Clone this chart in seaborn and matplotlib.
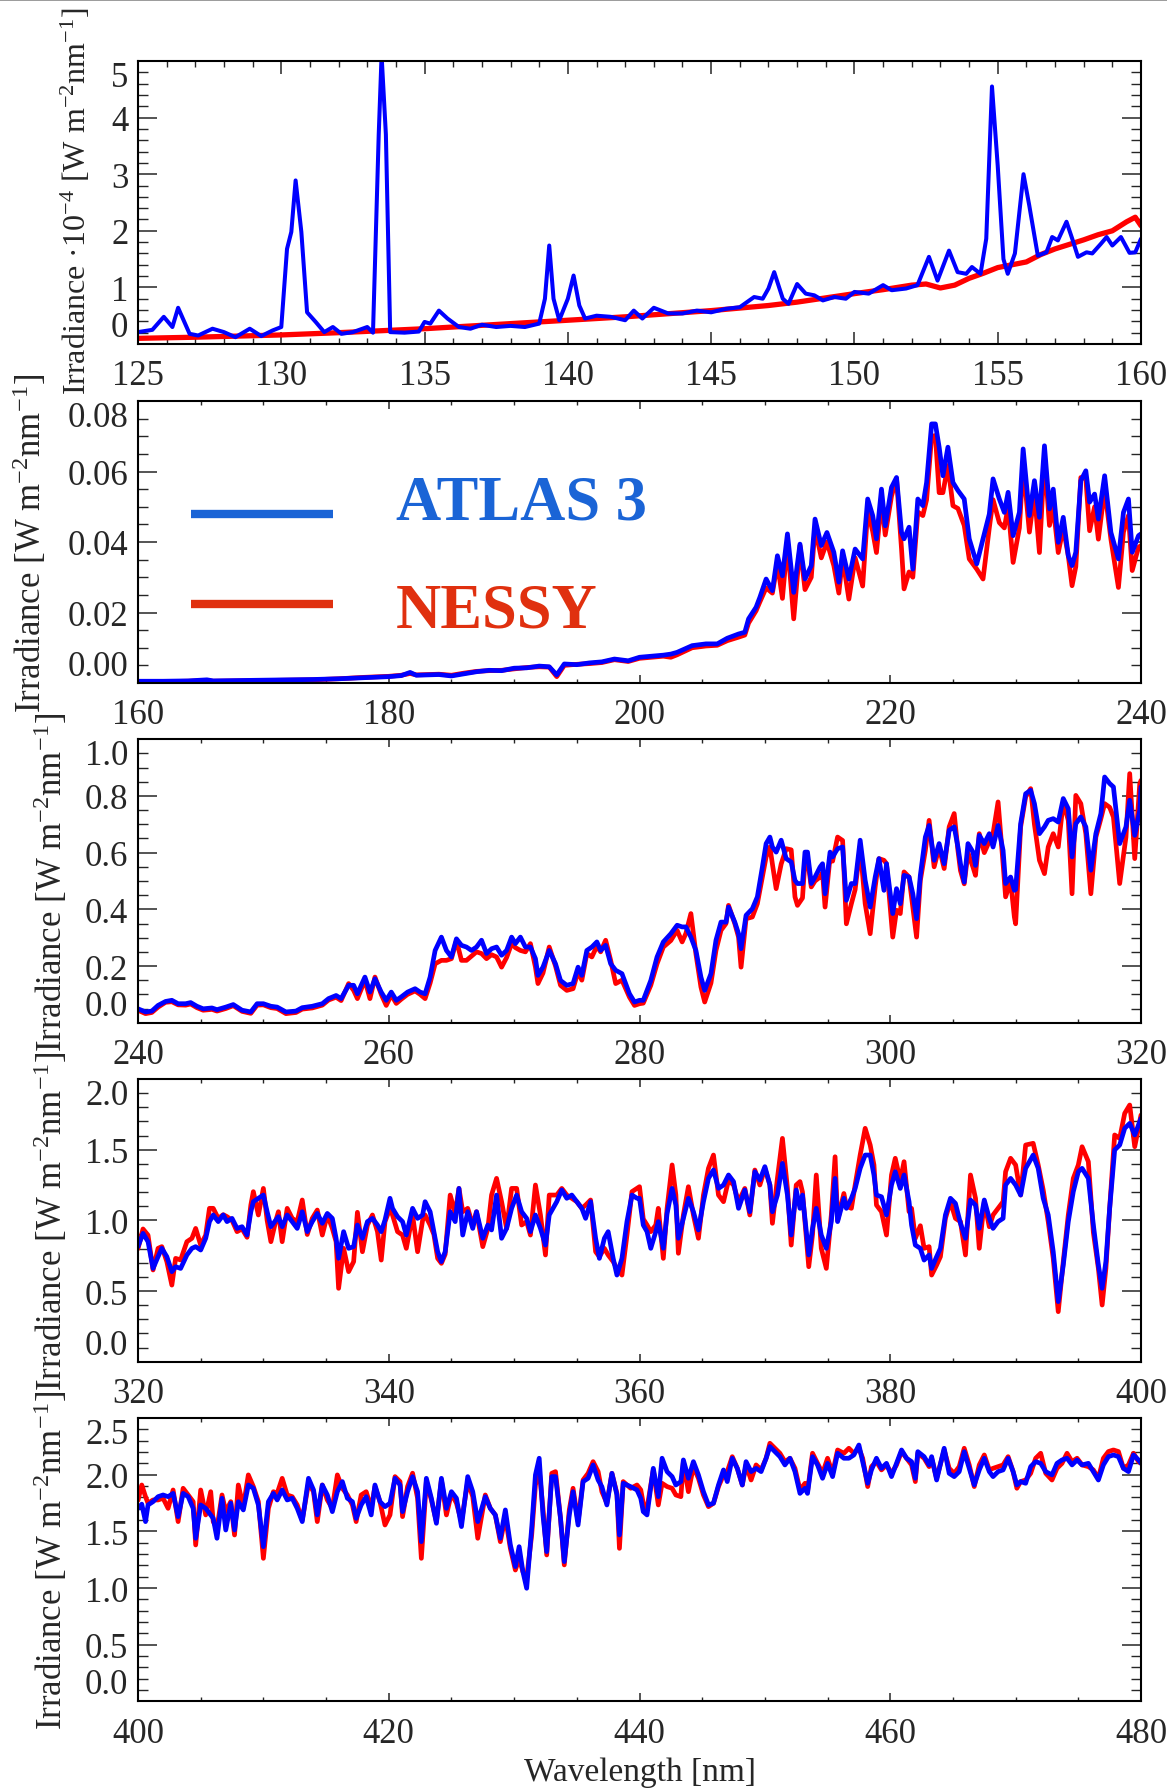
import numpy as np
import matplotlib
matplotlib.use("Agg")
import matplotlib.pyplot as plt
from matplotlib.ticker import MultipleLocator
from matplotlib.lines import Line2D
import seaborn as sns

# ---------------------------------------------------------------- data
# Panel 1: 125-160 nm, irradiance in units of 1e-4 W m^-2 nm^-1
wl1_atlas = [125.0, 125.5, 125.9, 126.2, 126.4, 126.8, 127.1, 127.6, 128.0, 128.4,
             128.9, 129.3, 129.7, 130.0, 130.2, 130.35, 130.5, 130.7, 130.9, 131.2,
             131.5, 131.8, 132.1, 132.5, 133.0, 133.2, 133.4, 133.5, 133.65, 133.8,
             134.3, 134.8, 135.0, 135.2, 135.5, 135.8, 136.2, 136.6, 137.0, 137.5,
             138.0, 138.5, 139.0, 139.2, 139.35, 139.5, 139.7, 140.0, 140.2, 140.4,
             140.6, 141.0, 141.5, 142.0, 142.3, 142.6, 143.0, 143.5, 144.0, 144.5,
             145.0, 145.5, 146.0, 146.5, 146.8, 147.0, 147.2, 147.5, 147.7, 148.0,
             148.3, 148.6, 148.9, 149.3, 149.7, 150.0, 150.5, 151.0, 151.3, 151.8,
             152.2, 152.6, 152.9, 153.3, 153.6, 153.9, 154.1, 154.4, 154.6, 154.8,
             155.0, 155.2, 155.35, 155.6, 155.9, 156.1, 156.4, 156.7, 156.9, 157.1,
             157.4, 157.6, 157.8, 158.1, 158.3, 158.6, 158.8, 159.0, 159.3, 159.6,
             159.8, 160.0]
atlas1 = [0.21, 0.25, 0.48, 0.30, 0.64, 0.18, 0.15, 0.27, 0.21, 0.12,
          0.27, 0.14, 0.24, 0.30, 1.68, 1.98, 2.89, 1.98, 0.56, 0.39,
          0.21, 0.30, 0.18, 0.21, 0.30, 0.20, 3.70, 5.10, 3.70, 0.21,
          0.20, 0.22, 0.39, 0.36, 0.59, 0.45, 0.30, 0.27, 0.34, 0.30,
          0.32, 0.30, 0.36, 0.80, 1.74, 0.80, 0.42, 0.80, 1.21, 0.68,
          0.45, 0.50, 0.48, 0.42, 0.59, 0.45, 0.64, 0.54, 0.54, 0.59,
          0.56, 0.62, 0.65, 0.83, 0.80, 0.98, 1.27, 0.80, 0.71, 1.06,
          0.89, 0.86, 0.77, 0.83, 0.80, 0.92, 0.89, 1.04, 0.95, 0.98,
          1.04, 1.54, 1.12, 1.65, 1.27, 1.24, 1.36, 1.24, 1.86, 4.55,
          3.15, 1.50, 1.24, 1.60, 3.00, 2.45, 1.56, 1.62, 1.89, 1.83,
          2.16, 1.86, 1.54, 1.62, 1.60, 1.77, 1.89, 1.74, 1.89, 1.61,
          1.62, 1.86]
wl1_nessy = [125.0, 127.0, 130.0, 132.0, 135.0, 137.0, 140.0, 142.0, 145.0, 147.0,
             148.0, 150.0, 151.0, 152.0, 152.5, 153.0, 153.5, 154.0, 154.5, 155.0,
             155.5, 156.0, 156.5, 157.0, 157.5, 158.0, 158.5, 159.0, 159.5, 159.8,
             160.0]
nessy1 = [0.10, 0.12, 0.16, 0.20, 0.27, 0.33, 0.42, 0.48, 0.59, 0.68,
          0.74, 0.89, 0.96, 1.04, 1.06, 0.99, 1.04, 1.16, 1.25, 1.35,
          1.40, 1.45, 1.58, 1.68, 1.76, 1.84, 1.93, 2.00, 2.16, 2.24,
          2.09]

# Panel 2: 160-240 nm
wl2 = [160.0, 162.0, 164.0, 165.5, 166.0, 168.0, 170.0, 172.0, 174.0, 176.0,
       178.0, 180.0, 181.0, 181.7, 182.2, 184.0, 185.0, 186.0, 187.0, 188.0,
       189.0, 190.0, 191.0, 192.0, 192.8, 193.4, 194.0, 195.0, 196.0, 197.0,
       198.0, 199.1, 200.0, 201.9, 202.5, 203.0, 204.2, 205.3, 206.2, 207.0,
       207.9, 208.4,
       208.7, 209.3, 209.6, 210.1, 210.6, 211.0, 211.4, 211.8, 212.3, 212.8,
       213.2, 213.7, 214.0, 214.5, 214.95, 215.5, 215.9, 216.2, 216.7, 217.2,
       217.8, 218.2, 218.6, 218.9, 219.3, 219.6, 220.1, 220.5, 220.9, 221.1,
       221.5, 221.8, 222.2, 222.6, 222.9, 223.3, 223.6, 223.9, 224.2, 224.6,
       225.0, 225.4, 225.9, 226.3, 226.9, 227.4, 227.9, 228.2, 228.7, 229.1,
       229.4, 229.8, 230.3, 230.6, 231.1, 231.5, 231.9, 232.3, 232.7, 233.0,
       233.4, 233.8, 234.2, 234.5, 234.8, 235.2, 235.6, 235.9, 236.3, 236.6,
       237.1, 237.6, 238.2, 238.6, 239.0, 239.3, 239.8, 240.0]
atlas2 = [.0005, .0005, .0006, .0009, .0006, .0007, .0008, .0009, .0010, .0012,
          .0015, .0018, .0021, .0030, .0022, .0024, .0020, .0026, .0032, .0036,
          .0035, .0042, .0043, .0048, .0046, .0023, .0054, .0052, .0057, .0060,
          .0068, .0063, .0073, .0079, .0082, .0087, .0106, .0111, .0111, .0127,
          .0139, .0144,
          .0182, .0215, .0243, .0295, .0262, .0361, .0304, .0423, .0257, .0394,
          .0295, .0333, .0465, .0390, .0427, .0371, .0286, .0375, .0295, .0380,
          .0352, .0522, .0475, .0409, .0550, .0446, .0555, .0583, .0427, .0409,
          .0442, .0323, .0522, .0503, .0569, .0735, .0735, .0669, .0588, .0669,
          .0569, .0546, .0522, .0409, .0338, .0409, .0479, .0579, .0522, .0484,
          .0541, .0418, .0484, .0664, .0475, .0574, .0470, .0673, .0494, .0550,
          .0399, .0470, .0361, .0333, .0371, .0574, .0602, .0513, .0536, .0465,
          .0588, .0427, .0352, .0484, .0522, .0371, .0418, .0423]
nessy2 = [.0004, .0004, .0005, .0007, .0005, .0006, .0007, .0008, .0009, .0012,
          .0016, .0019, .0022, .0027, .0023, .0025, .0022, .0028, .0033, .0035,
          .0036, .0040, .0044, .0046, .0045, .0018, .0050, .0053, .0055, .0058,
          .0066, .0061, .0070, .0076, .0073, .0080, .0100, .0105, .0107, .0120,
          .0130, .0136,
          .0170, .0205, .0230, .0270, .0255, .0340, .0240, .0400, .0182, .0390,
          .0265, .0300, .0440, .0355, .0400, .0333, .0255, .0355, .0238, .0355,
          .0275, .0490, .0430, .0370, .0520, .0420, .0530, .0580, .0380, .0267,
          .0315, .0300, .0485, .0475, .0520, .0700, .0702, .0540, .0540, .0617,
          .0503, .0495, .0447, .0352, .0323, .0295, .0440, .0520, .0455, .0440,
          .0500, .0342, .0440, .0620, .0428, .0540, .0370, .0640, .0447, .0500,
          .0370, .0440, .0361, .0276, .0330, .0583, .0580, .0432, .0500, .0408,
          .0550, .0408, .0271, .0428, .0475, .0319, .0385, .0390]

# Panel 3: 240-320 nm
wl3 = [240.0, 240.6, 241.1, 241.6, 242.2, 242.7, 243.2, 243.8, 244.2, 244.7,
       245.2, 245.9, 246.3, 247.0, 247.6, 248.3, 249.0, 249.5, 250.0, 250.6,
       251.1, 251.8, 252.6, 253.1, 253.9, 254.7, 255.2, 255.8, 256.2, 256.8,
       257.2, 257.5, 258.1, 258.5, 258.9, 259.4, 259.8, 260.2, 260.6, 261.0,
       261.5, 262.1, 262.5, 262.9, 263.3, 263.7, 264.2, 264.6, 265.0, 265.4,
       265.8, 266.2, 266.6, 267.0, 267.4, 267.8, 268.2, 268.6, 269.0, 269.4,
       269.8, 270.1, 270.5, 270.9, 271.3, 271.7, 271.9, 272.3, 272.8, 273.3,
       273.7, 274.2, 274.7, 275.1, 275.4, 275.8, 276.2, 276.6, 276.9, 277.3,
       277.7, 278.1, 278.6, 279.2, 279.6,
       280.0, 280.3, 280.9, 281.4, 281.9, 282.5, 283.0, 283.4, 283.7, 284.1,
       284.5, 284.9, 285.2, 285.7, 286.1, 286.5, 286.9, 287.1, 287.6, 287.9,
       288.1, 288.5, 289.0, 289.4, 289.8, 290.1, 290.4, 290.6, 290.9, 291.3,
       291.7, 292.1, 292.4, 292.6, 293.0, 293.2, 293.4, 293.7, 294.0, 294.4,
       294.6, 294.8, 295.2, 295.4, 295.8, 296.2, 296.5, 296.9, 297.2, 297.6,
       298.0, 298.4, 298.8, 299.1, 299.5, 299.7, 300.2, 300.5, 300.8, 301.1,
       301.5, 301.8, 302.1, 302.4, 302.8, 303.1, 303.5, 303.9, 304.3, 304.7,
       305.1, 305.4, 305.6, 305.9, 306.2, 306.6, 306.8, 307.1, 307.5, 307.9,
       308.2, 308.6, 309.0, 309.2, 309.6, 309.9, 310.0, 310.4, 310.8, 311.2,
       311.5, 311.9, 312.3, 312.6, 313.0, 313.4, 313.8, 314.2, 314.5, 314.8,
       315.2, 315.6, 316.0, 316.4, 316.8, 317.1, 317.5, 317.8, 318.3, 318.8,
       319.1, 319.5, 319.9, 320.0]
atlas3 = [.049, .038, .041, .061, .075, .079, .067, .067, .071, .058,
          .049, .052, .046, .055, .064, .044, .038, .067, .067, .058,
          .055, .038, .041, .053, .058, .067, .085, .096, .085, .132,
          .132, .102, .161, .108, .155, .108, .079, .108, .079, .091,
          .108, .120, .108, .102, .161, .255, .302, .255, .232, .296,
          .273, .267, .255, .267, .291, .244, .261, .267, .238, .255,
          .302, .279, .302, .267, .267, .226, .167, .196, .255, .208,
          .149, .132, .138, .196, .167, .255, .267, .285, .255, .273,
          .208, .185, .173, .102, .073,
          .079, .079, .149, .232, .285, .314, .344, .338, .338, .302,
          .255, .161, .114, .173, .291, .355, .355, .408, .355, .314,
          .261, .379, .402, .444, .549, .632, .655, .620, .602, .644,
          .579, .567, .502, .491, .491, .602, .602, .491, .514, .549,
          .561, .455, .602, .585, .614, .620, .432, .491, .491, .644,
          .502, .408, .514, .579, .467, .561, .385, .473, .420, .520,
          .514, .455, .367, .520, .655, .696, .573, .632, .561, .679,
          .691, .620, .561, .496, .632, .602, .555, .661, .632, .667,
          .620, .696, .608, .491, .514, .467, .470, .702, .808, .820,
          .773, .667, .691, .714, .720, .708, .791, .755, .585, .702,
          .726, .691, .538, .667, .738, .867, .844, .832, .632, .691,
          .785, .661, .749, .832]
nessy3 = [.044, .032, .036, .055, .072, .074, .063, .062, .066, .053,
          .044, .047, .041, .050, .060, .040, .033, .062, .063, .053,
          .050, .032, .036, .048, .052, .062, .080, .090, .078, .138,
          .114, .085, .150, .085, .161, .100, .061, .098, .068, .083,
          .100, .112, .100, .085, .140, .208, .220, .220, .226, .290,
          .220, .220, .235, .250, .244, .226, .240, .232, .196, .230,
          .279, .265, .255, .250, .279, .196, .138, .175, .267, .200,
          .132, .114, .120, .180, .150, .244, .232, .270, .250, .291,
          .220, .138, .150, .090, .061,
          .067, .069, .132, .208, .267, .290, .326, .285, .315, .385,
          .243, .126, .073, .140, .255, .326, .350, .414, .350, .302,
          .196, .367, .373, .420, .514, .585, .620, .560, .473, .560,
          .614, .610, .444, .414, .440, .572, .580, .479, .500, .514,
          .530, .408, .585, .570, .655, .643, .349, .420, .470, .620,
          .420, .314, .480, .579, .573, .561, .302, .397, .385, .532,
          .514, .408, .302, .502, .608, .714, .550, .620, .544, .691,
          .738, .608, .537, .490, .600, .549, .520, .667, .600, .640,
          .667, .779, .561, .444, .500, .373, .349, .691, .797, .826,
          .700, .573, .526, .620, .667, .620, .779, .714, .455, .802,
          .773, .667, .455, .655, .720, .773, .760, .726, .491, .655,
          .879, .579, .843, .855]

# Panel 4: 320-400 nm
wl4 = [320.0, 320.4, 320.8, 321.2, 321.6, 321.9, 322.3, 322.7, 323.0, 323.4,
       323.9, 324.3, 324.6, 325.0, 325.4, 325.7, 326.0, 326.4, 326.8, 327.1,
       327.5, 327.9, 328.3, 328.7, 329.0, 329.2, 329.6, 330.0, 330.3, 330.6,
       331.0, 331.2, 331.5, 331.9, 332.3, 332.7, 333.1, 333.5, 333.9, 334.3,
       334.7, 335.1, 335.5, 335.8, 336.0, 336.4, 336.8, 337.2, 337.5, 337.9,
       338.3, 338.7, 339.1, 339.4, 339.7, 340.1, 340.3, 340.7, 341.1, 341.4,
       341.9, 342.3, 342.7, 342.9, 343.3, 343.6, 343.9, 344.2, 344.5, 344.9,
       345.3, 345.6, 345.9, 346.3, 346.7, 347.0, 347.5, 347.9, 348.2, 348.6,
       349.0, 349.4, 349.8, 350.2, 350.6, 351.0, 351.3, 351.7, 352.1, 352.5,
       352.8, 353.4, 353.8, 354.2, 354.6, 355.0, 355.4, 355.7, 356.1, 356.5,
       356.8, 357.2, 357.5, 357.9, 358.2, 358.6, 359.0, 359.4, 359.8,
       360.0, 360.3, 360.6, 360.9, 361.3, 361.5, 361.9, 362.2, 362.6, 362.9,
       363.1, 363.5, 363.9, 364.3, 364.7, 365.1, 365.5, 365.9, 366.3, 366.7,
       367.1, 367.5, 367.9, 368.4, 368.8, 369.2, 369.6, 370.0, 370.4, 370.6,
       371.0, 371.4, 371.8, 372.1, 372.5, 372.8, 373.0, 373.5, 373.8, 374.1,
       374.5, 374.9, 375.3, 375.6, 375.8, 376.3, 376.5, 376.9, 377.2, 377.6,
       378.0, 378.4, 378.7, 378.9, 379.3, 379.7, 380.1, 380.4, 380.8, 381.1,
       381.5, 381.7, 382.0, 382.4, 382.7, 383.1, 383.3, 383.7, 384.0, 384.4,
       384.8, 385.2, 385.6, 386.0, 386.4, 386.8, 387.1, 387.5, 387.9, 388.2,
       388.6, 389.0, 389.2, 389.6, 390.0, 390.4, 390.8, 391.4, 391.8, 392.2,
       392.6, 393.0, 393.4, 393.8, 394.2, 394.6, 395.0, 395.3, 395.8, 396.2,
       396.6, 396.9, 397.2, 397.5, 397.9, 398.3, 398.7, 399.1, 399.5, 400.0]
atlas4 = [.814, .908, .849, .660, .743, .802, .743, .637, .672, .660,
          .755, .802, .814, .790, .873, .991, 1.038, .991, 1.038, .991,
          1.014, .943, .955, .896, 1.061, 1.132, 1.156, 1.179, 1.061, .955,
          1.002, 1.026, .955, 1.038, .991, .943, 1.061, .920, .991, 1.049,
          .979, 1.049, 1.014, .873, .731, .920, .802, .814, .967, .873,
          .991, 1.014, .967, .920, 1.002, 1.156, 1.085, 1.026, .991, .896,
          1.085, 1.014, 1.038, 1.132, 1.061, .920, .778, .708, .778, 1.061,
          .991, 1.226, .896, 1.061, .943, 1.061, .873, .967, .932, 1.179,
          .873, .943, 1.085, 1.179, 1.061, 1.014, .920, 1.038, .943, .825,
          1.038, 1.132, 1.215, 1.156, 1.179, 1.132, 1.085, 1.014, 1.132, .873,
          .731, .873, .920, .731, .613, .731, .991, 1.179, 1.156,
          1.156, .967, .920, .802, .920, .991, .802, 1.049, 1.226, 1.108,
          .873, 1.014, 1.156, 1.061, .932, 1.132, 1.297, 1.356, 1.226, 1.250,
          1.321, 1.274, 1.085, 1.215, 1.061, 1.344, 1.285, 1.380, 1.250, 1.061,
          1.179, 1.403, 1.179, .896, 1.215, 1.085, 1.179, .755, .943, 1.085,
          .896, .802, .991, 1.297, .991, 1.156, 1.085, 1.156, 1.226, 1.368,
          1.462, 1.462, 1.321, 1.179, 1.167, 1.038, 1.250, 1.344, 1.226, 1.321,
          1.132, .967, .825, .802, .719, .755, .660, .743, .802, 1.038,
          1.156, 1.120, .979, .873, 1.144, 1.108, .943, 1.144, 1.014, .943,
          .991, 1.014, 1.250, 1.297, 1.250, 1.179, 1.368, 1.462, 1.368, 1.156,
          1.038, .778, .425, .684, .991, 1.203, 1.344, 1.368, 1.297, .967,
          .684, .519, .708, 1.085, 1.498, 1.533, 1.651, 1.686, 1.604, 1.722]
nessy4 = [.800, .939, .895, .649, .802, .814, .708, .542, .731, .720,
          .849, .873, .943, .825, .896, 1.085, 1.085, 1.014, 1.040, 1.026,
          1.000, .920, .940, .880, 1.108, 1.203, 1.038, 1.226, 1.000, .849,
          1.000, 1.061, .849, 1.085, 1.014, .991, 1.144, .900, 1.014, 1.073,
          .896, 1.038, .943, .849, .519, .802, .637, .708, 1.057, .778,
          .967, 1.038, .920, .719, .990, 1.085, 1.038, .920, .896, .802,
          1.038, .778, 1.000, 1.038, .967, .900, .731, .696, .760, 1.179,
          1.050, 1.226, 1.061, 1.085, .967, 1.061, .814, .940, 1.179, 1.297,
          1.132, .943, 1.226, 1.226, .967, .991, .896, 1.250, 1.038, .755,
          1.179, 1.179, 1.226, 1.179, 1.156, 1.132, 1.085, 1.108, 1.144, .778,
          .743, .802, .755, .708, .660, .613, .896, 1.203, 1.226,
          1.238, 1.010, .967, .920, .967, 1.085, .731, 1.085, 1.392, 1.180,
          .767, 1.038, 1.238, 1.038, .873, 1.179, 1.368, 1.462, 1.179, 1.132,
          1.285, 1.250, 1.132, 1.226, 1.038, 1.356, 1.250, 1.368, 1.250, .979,
          1.297, 1.580, 1.226, .825, 1.250, 1.274, 1.200, .672, .900, 1.321,
          .802, .660, 1.038, 1.450, 1.000, 1.190, 1.100, 1.085, 1.250, 1.462,
          1.651, 1.533, 1.392, 1.108, 1.061, .896, 1.321, 1.439, 1.280, 1.415,
          1.061, 1.085, .873, .962, .802, .814, .613, .684, .743, 1.014,
          1.132, 1.014, .991, .755, 1.321, 1.156, .802, 1.132, .955, 1.038,
          1.085, 1.132, 1.344, 1.439, 1.392, 1.179, 1.533, 1.545, 1.392, 1.215,
          .991, .731, .354, .708, 1.038, 1.297, 1.392, 1.521, 1.415, .915,
          .660, .401, .660, 1.085, 1.604, 1.580, 1.757, 1.816, 1.521, 1.745]

# Panel 5: 400-480 nm
wl5 = [400.0, 400.3, 400.6, 400.8, 401.2, 401.6, 402.0, 402.4, 402.8, 403.2,
       403.6, 404.0, 404.4, 404.6, 405.0, 405.4, 405.8, 406.0, 406.3, 406.7,
       407.0, 407.4, 407.7, 408.0, 408.4, 408.8, 409.2, 409.6, 410.0, 410.4,
       410.8, 411.1, 411.5, 411.9, 412.3, 412.7, 413.1, 413.6, 414.0, 414.3,
       414.7, 415.1, 415.5, 415.9, 416.3, 416.7, 417.1, 417.4, 417.8, 418.2,
       418.6, 418.9, 419.3, 419.7, 420.1, 420.5, 420.9, 421.1, 421.5, 421.9,
       422.3, 422.6, 423.0, 423.4, 423.8, 424.2, 424.6, 425.0, 425.4, 425.8,
       426.3, 426.7, 427.1, 427.7, 428.1, 428.5, 428.9, 429.3, 429.7, 430.1,
       430.4, 430.7, 431.0, 431.4, 431.7, 432.0, 432.3, 432.6, 433.0, 433.3,
       433.7, 434.0, 434.4, 434.7, 435.1, 435.5, 435.9, 436.3, 436.7, 437.0,
       437.4, 437.8, 438.2, 438.4, 438.7, 439.3, 439.8,
       440.1, 440.3, 440.6, 440.9, 441.1, 441.5, 441.8, 442.2, 442.6, 442.9,
       443.3, 443.5, 443.9, 444.3, 444.7, 445.1, 445.5, 445.9, 446.3, 446.7,
       447.0, 447.4, 447.8, 448.2, 448.5, 448.9, 449.3, 449.7, 450.1, 450.4,
       450.8, 451.2, 451.6, 452.0, 452.4, 452.8, 453.2, 453.4, 453.8, 454.2,
       454.6, 455.0, 455.4, 455.8, 456.3, 456.7, 457.1, 457.5, 457.8, 458.2,
       458.5, 458.9, 459.3, 459.7, 460.1, 460.5, 460.9, 461.3, 461.7, 462.0,
       462.2, 462.7, 463.1, 463.3, 463.7, 464.3, 464.7, 465.1, 465.5, 465.9,
       466.3, 466.7, 467.1, 467.5, 467.9, 468.2, 468.6, 469.0, 469.4, 469.8,
       470.1, 470.4, 470.8, 471.2, 471.6, 472.0, 472.4, 472.9, 473.3, 473.7,
       474.1, 474.5, 474.9, 475.3, 475.8, 476.2, 476.6, 477.0, 477.4, 477.8,
       478.2, 478.6, 479.0, 479.4, 479.8, 480.0]
atlas5 = [1.703, 1.740, 1.586, 1.733, 1.762, 1.806, 1.821, 1.806, 1.835, 1.630,
          1.835, 1.806, 1.703, 1.439, 1.733, 1.703, 1.645, 1.615, 1.439, 1.792,
          1.512, 1.748, 1.512, 1.762, 1.689, 1.909, 1.880, 1.733, 1.365, 1.762,
          1.835, 1.777, 1.865, 1.777, 1.792, 1.703, 1.586, 1.968, 1.865, 1.645,
          1.909, 1.821, 1.674, 1.850, 1.939, 1.792, 1.762, 1.615, 1.733, 1.806,
          1.645, 1.909, 1.762, 1.718, 1.748, 1.968, 1.909, 1.674, 1.850, 1.983,
          1.850, 1.409, 1.968, 1.792, 1.571, 1.968, 1.703, 1.850, 1.792, 1.542,
          1.983, 1.850, 1.586, 1.806, 1.703, 1.645, 1.439, 1.689, 1.380, 1.189,
          1.365, 1.145, 0.998, 1.527, 1.998, 2.145, 1.645, 1.321, 1.983, 1.983,
          1.615, 1.233, 1.645, 1.850, 1.556, 1.939, 1.968, 2.086, 1.953, 1.894,
          1.733, 2.012, 1.821, 1.468, 1.924, 1.894, 1.865,
          1.792, 1.674, 1.645, 1.894, 2.056, 1.806, 2.145, 2.027, 1.983, 1.909,
          1.939, 2.130, 1.968, 2.115, 1.998, 1.850, 1.733, 1.748, 1.909, 2.042,
          1.939, 2.145, 2.056, 1.909, 2.115, 2.027, 2.056, 2.027, 2.145, 2.248,
          2.203, 2.159, 2.086, 2.145, 2.027, 1.835, 1.880, 1.835, 2.159, 2.086,
          1.968, 2.100, 1.983, 2.189, 2.145, 2.145, 2.174, 2.262, 2.115, 1.924,
          2.042, 2.145, 2.056, 2.100, 1.983, 2.100, 2.218, 2.145, 2.115, 1.968,
          2.203, 2.159, 2.086, 2.159, 1.953, 2.233, 2.012, 1.983, 2.027, 2.203,
          2.056, 1.909, 2.042, 2.145, 2.027, 1.983, 2.027, 2.042, 2.145, 2.027,
          1.909, 1.939, 1.924, 2.071, 2.115, 2.100, 2.027, 1.998, 2.100, 2.130,
          2.145, 2.086, 2.130, 2.086, 2.100, 2.027, 1.953, 2.086, 2.159, 2.174,
          2.159, 2.056, 2.027, 2.174, 2.130, 2.100]
nessy5 = [1.774, 1.909, 1.806, 1.748, 1.777, 1.777, 1.792, 1.703, 1.865, 1.586,
          1.880, 1.821, 1.762, 1.380, 1.865, 1.645, 1.850, 1.586, 1.527, 1.821,
          1.674, 1.762, 1.468, 1.909, 1.718, 1.998, 1.895, 1.762, 1.262, 1.703,
          1.850, 1.835, 1.968, 1.821, 1.806, 1.733, 1.600, 1.924, 1.850, 1.586,
          1.909, 1.777, 1.703, 1.998, 1.880, 1.821, 1.733, 1.586, 1.821, 1.850,
          1.703, 1.895, 1.762, 1.556, 1.645, 1.983, 1.939, 1.630, 1.895, 2.013,
          1.792, 1.262, 1.939, 1.777, 1.586, 1.953, 1.645, 1.835, 1.748, 1.586,
          1.939, 1.806, 1.439, 1.821, 1.703, 1.645, 1.409, 1.630, 1.350, 1.159,
          1.262, 1.145, 1.086, 1.468, 1.909, 2.042, 1.703, 1.292, 2.012, 2.027,
          1.615, 1.204, 1.689, 1.880, 1.586, 1.953, 2.012, 2.115, 2.027, 1.850,
          1.748, 2.012, 1.835, 1.350, 1.939, 1.880, 1.909,
          1.866, 1.748, 1.703, 1.909, 2.042, 1.733, 1.924, 1.895, 1.880, 1.821,
          1.806, 2.115, 1.850, 2.071, 1.968, 1.821, 1.718, 1.748, 1.895, 1.998,
          2.027, 2.159, 2.056, 1.909, 2.086, 1.953, 2.086, 2.042, 2.145, 2.277,
          2.233, 2.189, 2.115, 2.145, 2.056, 1.866, 1.924, 1.850, 2.189, 2.100,
          2.012, 2.145, 2.012, 2.218, 2.189, 2.233, 2.189, 2.233, 2.145, 1.895,
          2.071, 2.115, 2.042, 2.086, 2.012, 2.086, 2.204, 2.145, 2.086, 1.939,
          2.189, 2.145, 2.071, 2.145, 1.968, 2.218, 2.056, 2.012, 2.071, 2.233,
          2.086, 1.895, 2.086, 2.174, 2.042, 2.056, 2.071, 2.086, 2.159, 2.027,
          1.880, 1.939, 1.953, 2.012, 2.145, 2.189, 2.012, 1.953, 2.056, 2.100,
          2.189, 2.115, 2.145, 2.086, 2.071, 2.042, 1.968, 2.145, 2.204, 2.218,
          2.204, 2.056, 2.086, 2.189, 2.115, 2.100]

# axis settings for each panel
x_ranges = [(125, 160), (160, 240), (240, 320), (320, 400), (400, 480)]
x_major = [5, 20, 20, 20, 20]
x_minor = [1, 5, 5, 5, 5]
y_ticks = [[0, 1, 2, 3, 4, 5],
           [0.0, 0.02, 0.04, 0.06, 0.08],
           [0.0, 0.2, 0.4, 0.6, 0.8, 1.0],
           [0.0, 0.5, 1.0, 1.5, 2.0],
           [0.0, 0.5, 1.0, 1.5, 2.0, 2.5]]
y_tick_labels = [["0", "1", "2", "3", "4", "5"],
                 ["0.00", "0.02", "0.04", "0.06", "0.08"],
                 ["0.0", "0.2", "0.4", "0.6", "0.8", "1.0"],
                 ["0.0", "0.5", "1.0", "1.5", "2.0"],
                 ["0.0", "0.5", "1.0", "1.5", "2.0", "2.5"]]
y_minor = [0.2, 0.005, 0.05, 0.1, 0.1]
unit_label = "Irradiance [W m$^{-2}$nm$^{-1}$]"
top_label = "Irradiance \u00b710$^{-4}$ [W m$^{-2}$nm$^{-1}$]"

# ---------------------------------------------------------------- style
sns.set_style("ticks")
plt.rcParams["font.family"] = ["Liberation Serif", "DejaVu Serif"]
plt.rcParams["mathtext.fontset"] = "custom"
plt.rcParams["mathtext.rm"] = "Liberation Serif"
plt.rcParams["mathtext.it"] = "Liberation Serif:italic"
plt.rcParams["mathtext.bf"] = "Liberation Serif:bold"

fig = plt.figure(figsize=(11.67, 17.90), dpi=100)

W, H = 1167.0, 1790.0
left_px, width_px = 138.0, 1003.0
panel_px = [(62.0, 345.0), (402.0, 684.0), (740.3, 1023.7),
            (1080.0, 1362.7), (1419.0, 1702.4)]
axes = []
for top, bottom in panel_px:
    axes.append(fig.add_axes([left_px / W, 1 - bottom / H,
                              width_px / W, (bottom - top) / H]))

series = [(wl1_nessy, nessy1, wl1_atlas, atlas1),
          (wl2, nessy2, wl2, atlas2),
          (wl3, nessy3, wl3, atlas3),
          (wl4, nessy4, wl4, atlas4),
          (wl5, nessy5, wl5, atlas5)]

for i, ax in enumerate(axes):
    wn, yn, wa, ya = series[i]
    if len(wn) != len(yn) or len(wa) != len(ya):
        raise ValueError(f"panel {i + 1}: {len(wn)}/{len(yn)} {len(wa)}/{len(ya)}")
    lw_red = 3.8 if i == 0 else 3.4
    lw_blue = 2.9 if i == 0 else 3.4
    sns.lineplot(x=wn, y=yn, ax=ax, color="#ff0000", linewidth=lw_red,
                 estimator=None, sort=False, legend=False)
    sns.lineplot(x=wa, y=ya, ax=ax, color="#0000ff", linewidth=lw_blue,
                 estimator=None, sort=False, legend=False)

    ax.set_xlim(*x_ranges[i])
    ax.set_ylim(y_ticks[i][0], y_ticks[i][-1])
    ax.xaxis.set_major_locator(MultipleLocator(x_major[i]))
    ax.xaxis.set_minor_locator(MultipleLocator(x_minor[i]))
    ax.set_yticks(y_ticks[i])
    ax.set_yticklabels(y_tick_labels[i])
    ax.yaxis.set_minor_locator(MultipleLocator(y_minor[i]))

    fs = 25
    xmaj, xmin = (9, 4) if i == 0 else (6, 3)
    ax.tick_params(axis="x", which="major", direction="in", length=xmaj,
                   width=1.1, top=True, bottom=True, labelsize=fs, pad=11)
    ax.tick_params(axis="x", which="minor", direction="in", length=xmin,
                   width=1.0, top=True, bottom=True)
    ax.tick_params(axis="y", which="major", direction="in", length=14,
                   width=1.1, left=True, right=True, labelsize=fs, pad=7)
    ax.tick_params(axis="y", which="minor", direction="in", length=7,
                   width=1.0, left=True, right=True)
    for side in ax.spines.values():
        side.set_visible(True)
        side.set_linewidth(1.5)
        side.set_color("black")

    # keep the outermost value labels inside the frame
    yt = ax.yaxis.get_major_ticks()
    yt[0].label1.set_va("bottom")
    yt[-1].label1.set_va("top")

    ax.set_xlabel("")
    ax.set_ylabel(top_label if i == 0 else unit_label,
                  fontsize=23 if i == 0 else 25, va="center")

axes[0].yaxis.set_label_coords(-0.061, 0.51)
axes[1].yaxis.set_label_coords(-0.108, 0.5)
for ax in axes[2:]:
    ax.yaxis.set_label_coords(-0.087, 0.5)

axes[4].set_xlabel("Wavelength [nm]", fontsize=24, labelpad=5)

# legend drawn inside the second panel
ax2 = axes[1]
ax2.plot([0.053, 0.194], [0.600, 0.600], transform=ax2.transAxes,
         color="#1a64d6", lw=6, solid_capstyle="butt")
ax2.plot([0.053, 0.194], [0.280, 0.280], transform=ax2.transAxes,
         color="#e0300f", lw=6, solid_capstyle="butt")
fig.text(396 / W, 1 - 520 / H, "ATLAS 3", fontsize=45, fontweight="bold",
         color="#1a64d6", ha="left", va="baseline")
fig.text(396 / W, 1 - 627 / H, "NESSY", fontsize=45, fontweight="bold",
         color="#e0300f", ha="left", va="baseline")

# thin rule along the top edge
fig.add_artist(Line2D([0, 1], [1 - 1 / H, 1 - 1 / H], transform=fig.transFigure,
                      color="#8a8a8a", lw=1.2))

fig.savefig("out.png", dpi=100)
